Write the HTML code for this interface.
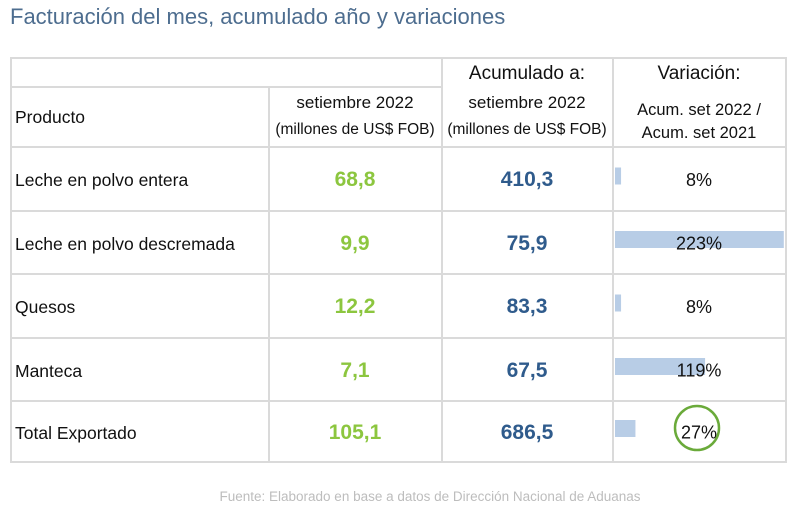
<!DOCTYPE html>
<html><head><meta charset="utf-8"><style>
body{margin:0;width:794px;height:512px;background:#fff;font-family:"Liberation Sans",sans-serif;position:relative;overflow:hidden}
.t{position:absolute;white-space:nowrap}
.c{text-align:center;transform:translateX(-50%)}
.line{position:absolute;background:#dadada}
.g{color:#8cc63f;font-weight:bold;font-size:21px}
.b{color:#2f5b8c;font-weight:bold;font-size:21px}
.lbl{font-size:17.5px;color:#111}
</style></head><body>
<div class="t" style="left:10px;top:4px;font-size:22px;color:#4d6d8f">Facturación del mes, acumulado año y variaciones</div>
<div id="tbl"></div>
<svg id="bars" width="794" height="512" style="position:absolute;left:0;top:0"></svg>
<div class="t c" style="left:430px;top:489px;font-size:13.5px;color:#bdbdbd">Fuente: Elaborado en base a datos de Dirección Nacional de Aduanas</div>
<script>
const products=["Leche en polvo entera","Leche en polvo descremada","Quesos","Manteca","Total Exportado"];
const monthVals=["68,8","9,9","12,2","7,1","105,1"];
const accVals=["410,3","75,9","83,3","67,5","686,5"];
const variation=[8,223,8,119,27];
const rowTops=[146,210,273,337,400,461];
const T=document.getElementById('tbl');
function add(html,cls,style,name){const d=document.createElement('div');d.className='t '+cls;d.setAttribute('style',style);d.innerHTML=html;


T.appendChild(d);return d;}
function ln(l,t,w,h,name){const d=document.createElement('div');d.className='line';d.setAttribute('style',`left:${l}px;top:${t}px;width:${w}px;height:${h}px`);


T.appendChild(d);}
ln(10,57,777,2,'table-top-border');ln(10,86,431,2,'header-divider');
rowTops.forEach((y,i)=>ln(10,y,777,2,'row-border-'+i));
ln(10,57,2,406,'table-left-border');ln(785,57,2,406,'table-right-border');
ln(268,86,2,377,'col-divider-1');ln(441,57,2,406,'col-divider-2');ln(612,57,2,406,'col-divider-3');
add('Acumulado a:','c','left:527px;top:63px;font-size:19px;color:#111','acum-header');
add('Variación:','c','left:699px;top:63px;font-size:19px;color:#111','variation-header');
add('Producto','lbl','left:15px;top:107px','product-header');
add('setiembre 2022','c lbl','left:355px;top:93px;font-size:17px','month-header');
add('(millones de US$ FOB)','c lbl','left:355px;top:121px;font-size:15.5px','month-unit');
add('setiembre 2022','c lbl','left:527px;top:93px;font-size:17px','acum-subheader');
add('(millones de US$ FOB)','c lbl','left:527px;top:121px;font-size:15.5px','acum-unit');
add('Acum. set 2022 /','c lbl','left:699px;top:101px;font-size:16.5px','variation-sub1');
add('Acum. set 2021','c lbl','left:699px;top:124px;font-size:16.5px','variation-sub2');
const svg=document.getElementById('bars');const NS='http://www.w3.org/2000/svg';
const xs=v=>615+v*0.757;
products.forEach((p,i)=>{
 const cy=(rowTops[i]+rowTops[i+1])/2;
 add(p,'lbl',`left:15px;top:${cy-8}px`,'product-label');
 add(monthVals[i],'c g',`left:355px;top:${cy-10}px`,'month-value');
 add(accVals[i],'c b',`left:527px;top:${cy-10}px`,'acum-value');
 const r=document.createElementNS(NS,'rect');
 const h=17;
 r.setAttribute('x',615);r.setAttribute('y',cy-h/2-2);r.setAttribute('width',xs(variation[i])-615);r.setAttribute('height',h);r.setAttribute('fill','#b8cde6');
 
 
 svg.appendChild(r);
 const tx=document.createElementNS(NS,'text');
 tx.setAttribute('x',699);tx.setAttribute('y',cy+8);tx.setAttribute('text-anchor','middle');tx.setAttribute('font-size','18');tx.setAttribute('fill','#111');tx.setAttribute('font-family','Liberation Sans, sans-serif');
 tx.textContent=variation[i]+'%';
 
 
 svg.appendChild(tx);
});
const c=document.createElementNS(NS,'circle');
c.setAttribute('cx',697);c.setAttribute('cy',428);c.setAttribute('r',22);c.setAttribute('fill','none');c.setAttribute('stroke','#6aaa3a');c.setAttribute('stroke-width','2.5');


svg.appendChild(c);
</script>
</body></html>
